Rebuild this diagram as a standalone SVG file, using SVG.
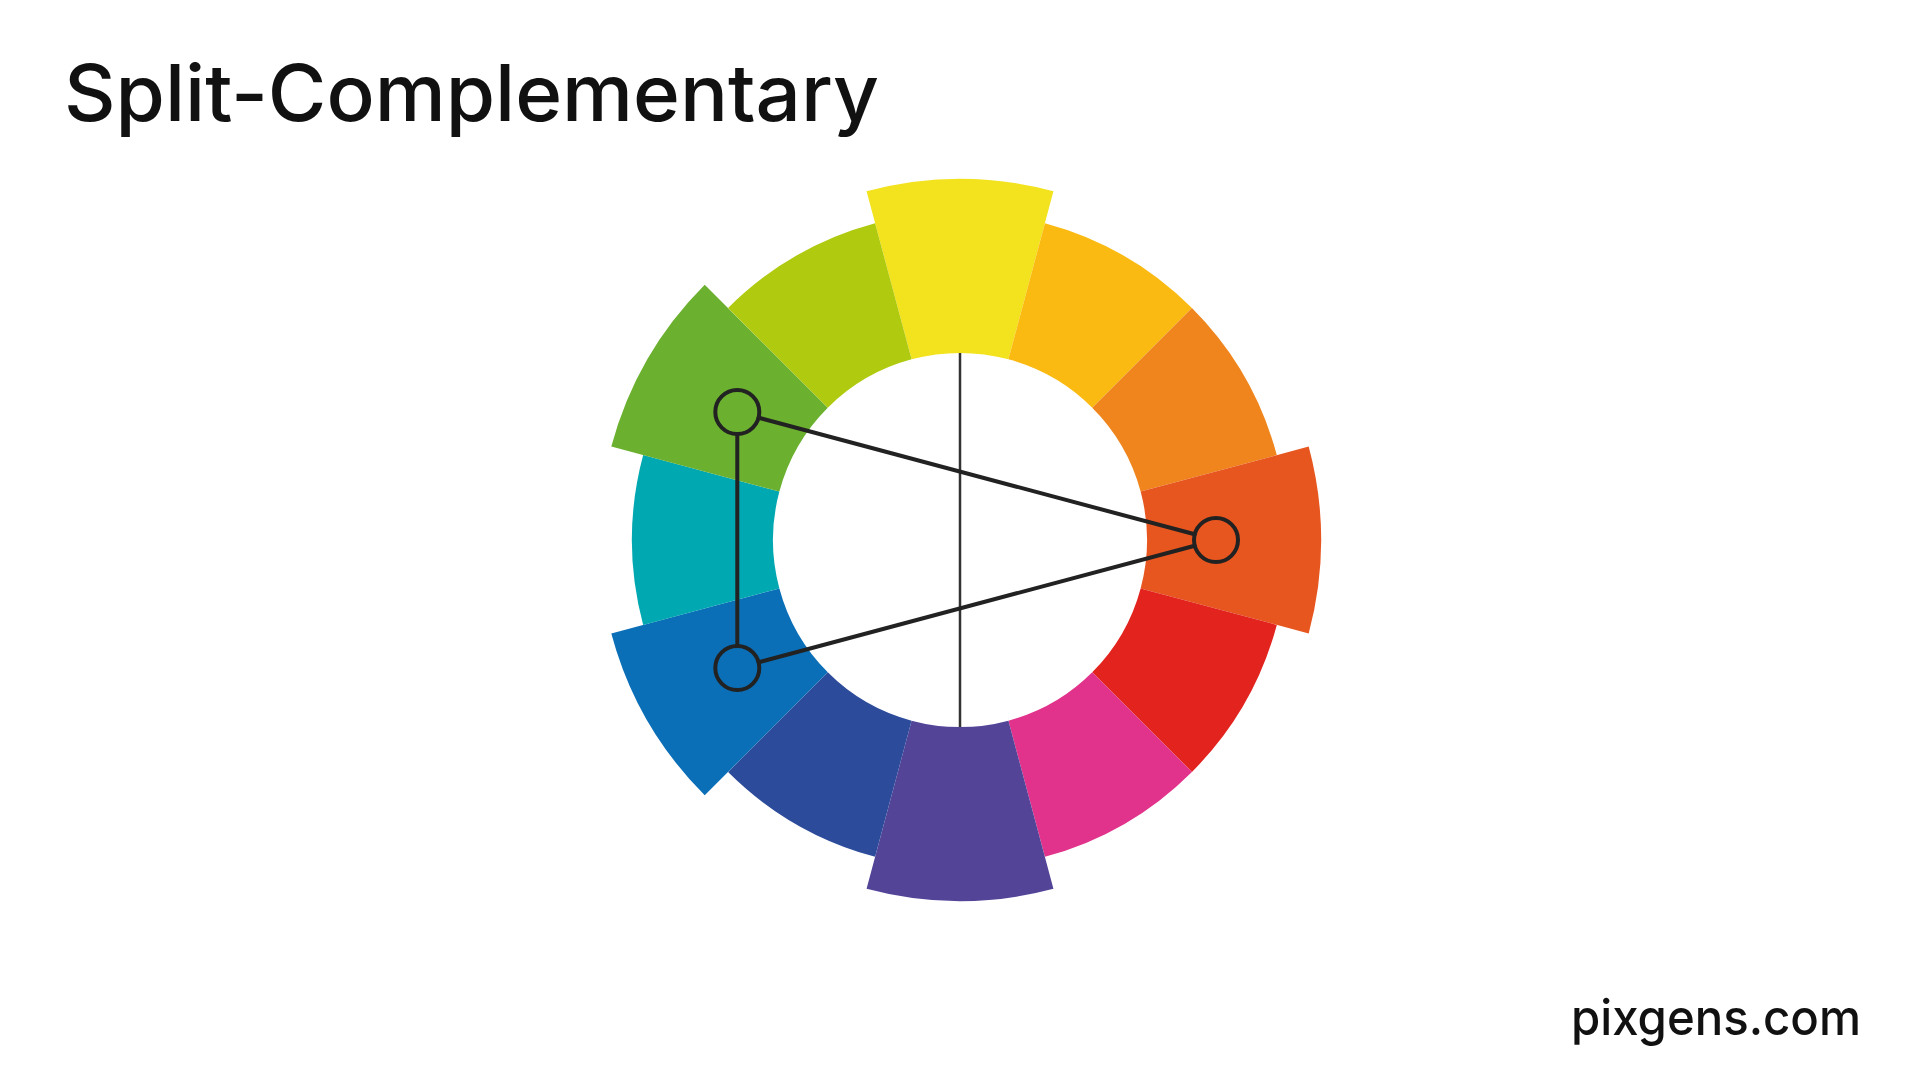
<svg xmlns="http://www.w3.org/2000/svg" width="1920" height="1080" viewBox="0 0 1920 1080">
<style>
.title{font-family:Inter,"Open Sans","Liberation Sans",sans-serif;font-weight:500;fill:#111;}
.ring{stroke:none;}
.tri{stroke:#222;stroke-width:4;fill:none;stroke-linecap:round;}
.axis{stroke:#333;stroke-width:2.5;fill:none;}
.mark{stroke:#222;stroke-width:4;fill:none;}
</style>
<rect width="1920" height="1080" fill="#ffffff"/>
<text class="title" x="64" y="121" font-size="78" textLength="815" lengthAdjust="spacingAndGlyphs">Split-Complementary</text>
<g id="wheel">
<path id="seg-yellow" class="ring" fill="#F3E31E" d="M 866.57 191.30 A 361 361 0 0 1 1053.43 191.30 L 1008.40 359.37 A 187 187 0 0 0 911.60 359.37 Z"/>
<path id="seg-yellow-orange" class="ring" fill="#FBBA12" d="M 1044.89 223.18 A 328 328 0 0 1 1191.93 308.07 L 1092.23 407.77 A 187 187 0 0 0 1008.40 359.37 Z"/>
<path id="seg-orange" class="ring" fill="#EF851C" d="M 1191.93 308.07 A 328 328 0 0 1 1276.82 455.11 L 1140.63 491.60 A 187 187 0 0 0 1092.23 407.77 Z"/>
<path id="seg-red-orange" class="ring" fill="#E8561F" d="M 1308.70 446.57 A 361 361 0 0 1 1308.70 633.43 L 1140.63 588.40 A 187 187 0 0 0 1140.63 491.60 Z"/>
<path id="seg-red" class="ring" fill="#E2231E" d="M 1276.82 624.89 A 328 328 0 0 1 1191.93 771.93 L 1092.23 672.23 A 187 187 0 0 0 1140.63 588.40 Z"/>
<path id="seg-magenta" class="ring" fill="#E2338C" d="M 1191.93 771.93 A 328 328 0 0 1 1044.89 856.82 L 1008.40 720.63 A 187 187 0 0 0 1092.23 672.23 Z"/>
<path id="seg-purple" class="ring" fill="#534498" d="M 1053.43 888.70 A 361 361 0 0 1 866.57 888.70 L 911.60 720.63 A 187 187 0 0 0 1008.40 720.63 Z"/>
<path id="seg-blue-violet" class="ring" fill="#2D4B9B" d="M 875.11 856.82 A 328 328 0 0 1 728.07 771.93 L 827.77 672.23 A 187 187 0 0 0 911.60 720.63 Z"/>
<path id="seg-blue" class="ring" fill="#0B6FB8" d="M 704.73 795.27 A 361 361 0 0 1 611.30 633.43 L 779.37 588.40 A 187 187 0 0 0 827.77 672.23 Z"/>
<path id="seg-cyan" class="ring" fill="#00A8B1" d="M 643.18 624.89 A 328 328 0 0 1 643.18 455.11 L 779.37 491.60 A 187 187 0 0 0 779.37 588.40 Z"/>
<path id="seg-green" class="ring" fill="#6BB12F" d="M 611.30 446.57 A 361 361 0 0 1 704.73 284.73 L 827.77 407.77 A 187 187 0 0 0 779.37 491.60 Z"/>
<path id="seg-yellow-green" class="ring" fill="#AFCA0F" d="M 728.07 308.07 A 328 328 0 0 1 875.11 223.18 L 911.60 359.37 A 187 187 0 0 0 827.77 407.77 Z"/>
</g>
<g id="connectors">
<line class="axis" x1="960" y1="353" x2="960" y2="727"/>
<line class="tri" x1="758.6" y1="417.7" x2="1194.7" y2="534.3"/>
<line class="tri" x1="758.6" y1="662.3" x2="1194.7" y2="545.7"/>
<line class="tri" x1="737.3" y1="434" x2="737.3" y2="646"/>
</g>
<g id="marker-green"><circle class="mark" cx="737.3" cy="412" r="22"/></g>
<g id="marker-blue"><circle class="mark" cx="737.3" cy="668" r="22"/></g>
<g id="marker-red-orange"><circle class="mark" cx="1216" cy="540" r="22"/></g>
<text class="title" x="1571" y="1035" font-size="50" textLength="290" lengthAdjust="spacingAndGlyphs">pixgens.com</text>
</svg>
